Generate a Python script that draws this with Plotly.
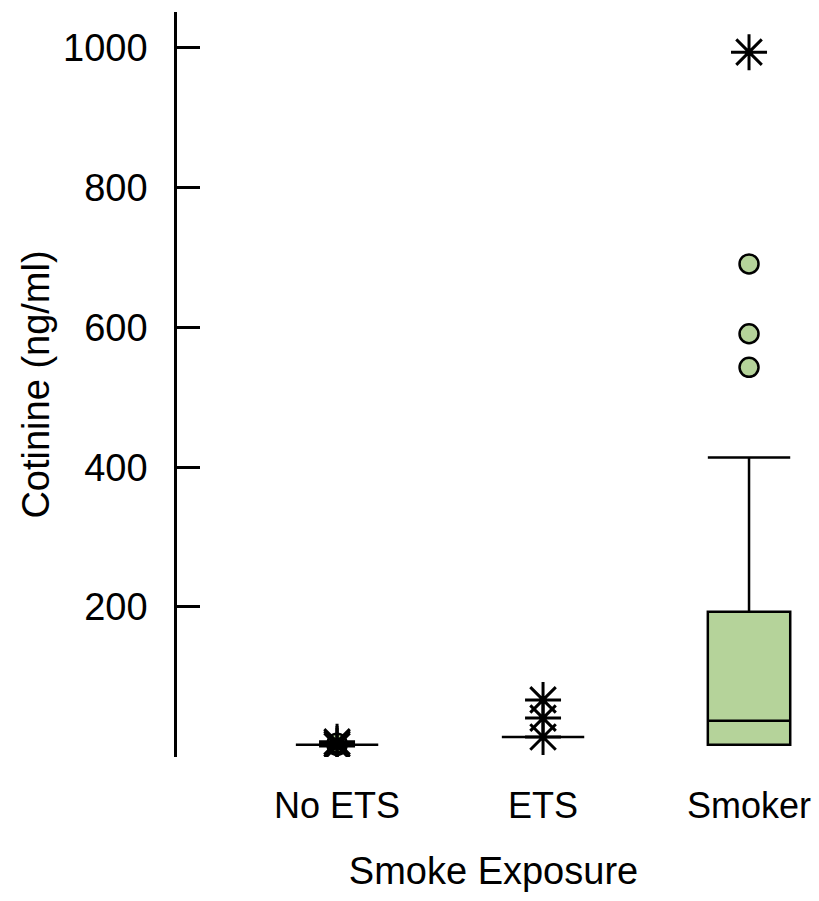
import plotly.graph_objects as go

categories = ["No ETS", "ETS", "Smoker"]
q1 = [3, 14, 3]
median = [3, 14, 37]
q3 = [3, 14, 193]
lowerfence = [3, 14, 3]
upperfence = [3, 14, 414]

# outliers (circles) and extremes (asterisks)
outlier_cat = ["No ETS", "No ETS", "Smoker", "Smoker", "Smoker"]
outlier_val = [2, 5, 543, 591, 691]
extreme_cat = ["No ETS", "No ETS", "No ETS", "ETS", "ETS", "ETS", "Smoker"]
extreme_val = [1, 4, 7, 14, 41, 67, 994]

yticks = [200, 400, 600, 800, 1000]

FONT = "Liberation Sans Narrow, Arial Narrow, Liberation Sans, Arial, sans-serif"
GREEN = "#b5d39a"
FS = 38

fig = go.Figure()
fig.add_trace(go.Box(
    x=categories, q1=q1, median=median, q3=q3,
    lowerfence=lowerfence, upperfence=upperfence,
    fillcolor=GREEN, line=dict(color="black", width=2.5),
    width=0.4, whiskerwidth=1, boxpoints=False, showlegend=False,
    hoverinfo="skip",
))
fig.add_trace(go.Scatter(
    x=outlier_cat, y=outlier_val, mode="markers",
    marker=dict(symbol="circle", size=19, color=GREEN,
                line=dict(color="black", width=2.5)),
    showlegend=False,
))
fig.add_trace(go.Scatter(
    x=extreme_cat, y=extreme_val, mode="markers",
    marker=dict(symbol="asterisk-open", size=30, color="black",
                line=dict(color="black", width=3)),
    showlegend=False,
))

fig.update_layout(
    width=819, height=901,
    margin=dict(l=177, r=9, t=12, b=144),
    paper_bgcolor="white", plot_bgcolor="white",
    font=dict(family=FONT, color="black", size=FS),
    xaxis=dict(
        type="category", categoryorder="array", categoryarray=categories,
        range=[-0.777, 2.296], showline=False, showgrid=False,
        zeroline=False, ticks="", ticklabelstandoff=24, automargin=False,
        tickfont=dict(size=36),
        title=dict(text="Smoke Exposure", font=dict(size=FS), standoff=32),
    ),
    yaxis=dict(
        range=[-14.7, 1051.5], tickvals=yticks, automargin=False,
        showline=True, linecolor="black", linewidth=2.5,
        ticks="inside", ticklen=23, tickwidth=2.5, tickcolor="black",
        showgrid=False, zeroline=False, tickfont=dict(size=FS),
        ticklabelstandoff=19,
        title=dict(text="Cotinine (ng/ml)", font=dict(size=FS), standoff=2),
    ),
)

fig.write_html("out.html", config={"displayModeBar": False},
               post_script="document.body.style.margin='0';")
